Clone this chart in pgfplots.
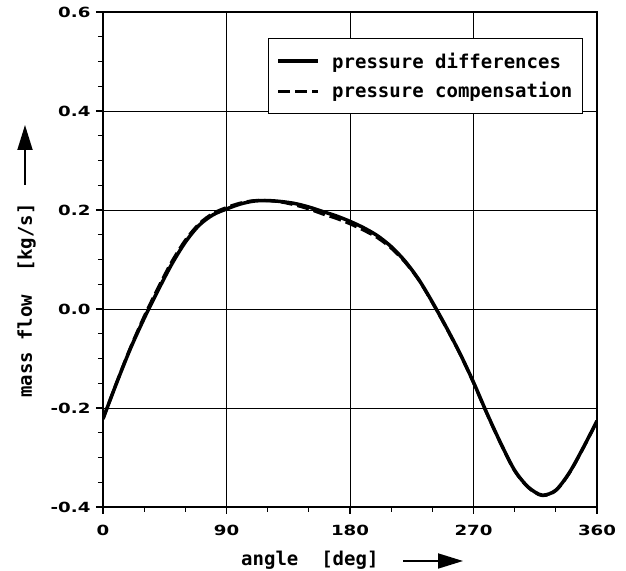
\documentclass[border=0pt]{standalone}
\usepackage{pgfplots}
\pgfplotsset{compat=1.18}
\usepackage{fontspec}
\setmainfont{DejaVu Sans Mono}
\newfontfamily\tickfont{DejaVu Sans}[FakeStretch=1.3]
\usetikzlibrary{arrows.meta}
\newcommand\labfont{\bfseries\fontsize{19}{22}\selectfont}
\begin{document}
\begin{tikzpicture}
\begin{axis}[
  width=494pt, height=495pt, scale only axis,
  xmin=0, xmax=360, ymin=-0.4, ymax=0.6,
  xtick={0,90,180,270,360},
  ytick={-0.4,-0.2,0,0.2,0.4,0.6},
  minor x tick num=2, minor y tick num=3,
  tick pos=left,
  tick align=outside,
  major tick length=7pt, minor tick length=5pt,
  every tick/.style={black, line width=1.2pt},
  grid=major,
  major grid style={black, line width=0.7pt},
  axis line style={line width=1.6pt},
  /pgf/number format/assume math mode=true,
  ticklabel style={font=\tickfont\bfseries\fontsize{14}{14}\selectfont},
  xticklabel style={yshift=-8pt},
  yticklabel style={xshift=-2pt, /pgf/number format/.cd, fixed, fixed zerofill, precision=1},
  legend style={at={(rel axis cs:0.9717,0.9475)}, anchor=north east,
    draw=black, line width=1.2pt, font=\labfont,
    inner xsep=8pt, inner ysep=12pt, row sep=9pt,
    /tikz/every odd column/.append style={column sep=10pt}},
  legend cell align=left,
  legend image code/.code={\draw[#1] (0pt,0pt) -- (40pt,0pt);},
]
\addplot[black, line width=3.5pt, smooth] coordinates {
(0,-0.222) (10,-0.149) (20,-0.080) (30,-0.019) (40,0.037) (50,0.090)
(60,0.135) (70,0.169) (80,0.190) (90,0.202) (100,0.212) (110,0.218)
(120,0.219) (130,0.217) (140,0.213) (150,0.206) (160,0.197) (170,0.188)
(180,0.177) (190,0.164) (200,0.148) (210,0.126) (220,0.097) (230,0.060)
(240,0.014) (250,-0.036) (260,-0.089) (270,-0.148) (280,-0.212) (290,-0.272)
(300,-0.326) (310,-0.360) (320,-0.376) (330,-0.366) (340,-0.330) (350,-0.280)
(360,-0.226)};
\addlegendentry{pressure differences}
\addplot[black, line width=3pt, dash pattern=on 12pt off 5pt, smooth] coordinates {
(0,-0.222) (10,-0.148) (20,-0.078) (30,-0.015) (40,0.042) (50,0.095)
(60,0.139) (70,0.172) (80,0.193) (90,0.205) (100,0.214) (110,0.219)
(120,0.219) (130,0.216) (140,0.210) (150,0.202) (160,0.192) (170,0.183)
(180,0.172) (190,0.159) (200,0.144) (210,0.123) (220,0.095) (230,0.059)
(240,0.013) (250,-0.037) (260,-0.090) (270,-0.149) (280,-0.213) (290,-0.273)
(300,-0.327) (310,-0.361) (320,-0.377) (330,-0.367) (340,-0.331) (350,-0.281)
(360,-0.227)};
\addlegendentry{pressure compensation}
\coordinate (bl) at (rel axis cs:0,0);
\coordinate (tr) at (rel axis cs:1,1);
\end{axis}
\node[anchor=base west, inner sep=0, font=\labfont] at ([xshift=138pt, yshift=-59pt]bl) {angle\ \ [deg]};
\draw[line width=1.8pt, -{Triangle[length=25pt,width=15pt]}] ([xshift=300pt,yshift=-54pt]bl) -- ([xshift=360pt,yshift=-54pt]bl);
\node[rotate=90, anchor=base west, inner sep=0, font=\labfont] at ([xshift=-71pt, yshift=109pt]bl) {mass flow\ \ [kg/s]};
\draw[line width=1.8pt, -{Triangle[length=25pt,width=15pt]}] ([xshift=-78pt,yshift=322pt]bl) -- ([xshift=-78pt,yshift=382pt]bl);
\pgfresetboundingbox
\path ([xshift=-103pt,yshift=-64pt]bl) rectangle ([xshift=29pt,yshift=12pt]tr);
\end{tikzpicture}
\end{document}
